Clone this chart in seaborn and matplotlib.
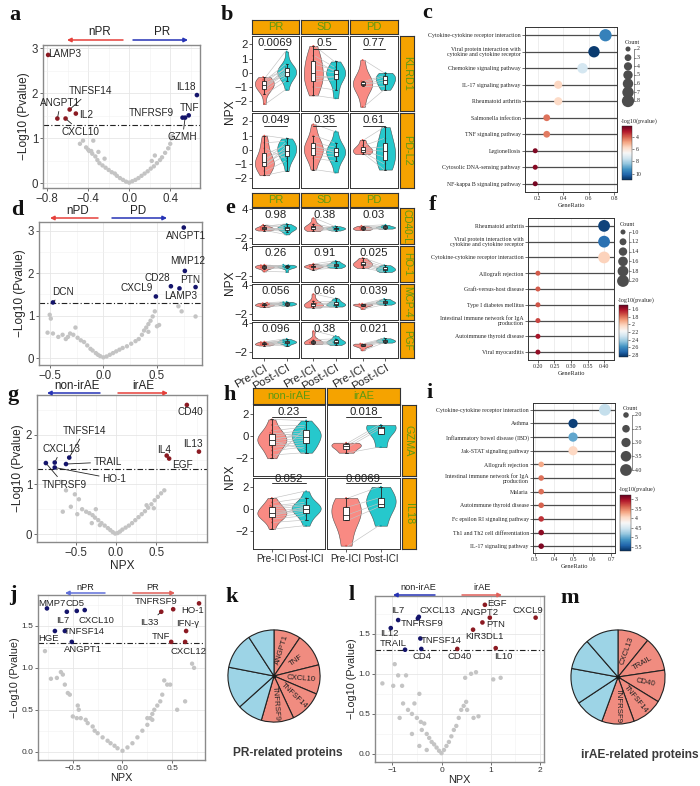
import warnings
import numpy as np
import pandas as pd
import seaborn as sns
import matplotlib.pyplot as plt
from matplotlib import cm
from matplotlib.colors import Normalize
from matplotlib.ticker import MultipleLocator

warnings.filterwarnings("ignore")
sns.set_theme(style="white")
plt.rcParams["font.family"] = ["Liberation Sans", "DejaVu Sans"]

# ----------------------------- data -----------------------------
# volcano a (PR vs nPR)
a_gray = [(-0.48, 0.88), (-0.45, 0.95), (-0.42, 0.80), (-0.40, 0.75), (-0.37, 0.72), (-0.36, 0.66),
          (-0.33, 0.60), (-0.31, 0.52), (-0.29, 0.45), (-0.26, 0.40), (-0.23, 0.35), (-0.20, 0.30),
          (-0.17, 0.25), (-0.14, 0.22), (-0.12, 0.17), (-0.09, 0.12), (-0.06, 0.08), (-0.03, 0.04),
          (0.00, 0.02), (0.03, 0.05), (0.06, 0.08), (0.09, 0.12), (0.12, 0.17), (0.15, 0.22),
          (0.18, 0.27), (0.21, 0.33), (0.24, 0.38), (0.27, 0.45), (0.30, 0.52), (0.32, 0.58),
          (0.35, 0.68), (0.38, 0.78), (0.40, 0.88), (0.41, 1.00), (0.42, 1.05), (0.25, 0.62),
          (0.22, 0.50), (-0.35, 0.95), (-0.39, 0.72), (-0.30, 0.70), (-0.24, 0.55)]
a_gene = ["LAMP3", "ANGPT1", "CXCL10", "TNFSF14", "IL2", "IL18", "TNF", "TNFRSF9", "GZMH"]
a_x = [-0.79, -0.70, -0.62, -0.58, -0.52, 0.66, 0.58, 0.52, 0.545]
a_y = [2.85, 1.44, 1.44, 1.64, 1.55, 1.96, 1.51, 1.46, 1.46]
a_side = ["down"] * 5 + ["up"] * 4

# volcano d (PD vs nPD)
d_gray = [(-0.50, 1.02), (-0.49, 0.93), (-0.52, 0.60), (-0.47, 0.58), (-0.42, 0.50), (-0.33, 0.50),
          (-0.31, 0.58), (-0.28, 0.55), (-0.26, 0.72), (-0.24, 0.48), (-0.21, 0.42), (-0.18, 0.38),
          (-0.15, 0.30), (-0.12, 0.22), (-0.10, 0.18), (-0.07, 0.12), (-0.05, 0.08), (-0.03, 0.05),
          (0.00, 0.02), (0.03, 0.04), (0.06, 0.08), (0.09, 0.12), (0.12, 0.16), (0.15, 0.20),
          (0.18, 0.24), (0.22, 0.28), (0.26, 0.34), (0.30, 0.40), (0.33, 0.45), (0.36, 0.55),
          (0.38, 0.65), (0.40, 0.72), (0.42, 0.80), (0.44, 0.88), (0.46, 0.98), (0.48, 1.10),
          (0.42, 0.62), (0.50, 0.75), (0.52, 0.78), (0.70, 1.22), (0.73, 1.10), (0.86, 0.98),
          (-0.35, 0.45), (-0.38, 0.55)]
d_gene = ["DCN", "CXCL9", "CD28", "LAMP3", "PTN", "MMP12", "ANGPT1"]
d_x = [-0.47, 0.49, 0.63, 0.71, 0.86, 0.76, 0.75]
d_y = [1.31, 1.45, 1.69, 1.64, 1.67, 2.05, 3.07]
d_side = ["up"] * 7

# volcano g (irAE vs non-irAE)
g_gray = [(-0.68, 1.05), (-0.62, 0.88), (-0.51, 0.80), (-0.46, 0.70), (-0.56, 0.55), (-0.66, 0.45),
          (-0.48, 0.40), (-0.42, 0.50), (-0.37, 0.45), (-0.33, 0.42), (-0.29, 0.38), (-0.26, 0.33),
          (-0.22, 0.28), (-0.18, 0.22), (-0.14, 0.17), (-0.10, 0.12), (-0.07, 0.08), (-0.04, 0.04),
          (-0.01, 0.01), (0.02, 0.02), (0.05, 0.05), (0.08, 0.09), (0.12, 0.13), (0.16, 0.17),
          (0.20, 0.22), (0.24, 0.28), (0.28, 0.34), (0.32, 0.40), (0.36, 0.46), (0.40, 0.53),
          (0.44, 0.60), (0.48, 0.68), (0.52, 0.75), (0.56, 0.82), (0.60, 0.88), (0.47, 0.52),
          (0.38, 0.58), (-0.30, 0.22), (-0.20, 0.18), (-0.25, 0.50)]
g_gene = ["TNFRSF9", "CXCL13", "HO-1", "TRAIL", "TNFSF14", "IL4", "EGF", "IL13", "CD40"]
g_x = [-0.87, -0.76, -0.76, -0.62, -0.58, 0.63, 0.66, 1.03, 0.88]
g_y = [1.43, 1.44, 1.34, 1.41, 1.54, 1.58, 1.52, 1.66, 2.60]
g_side = ["up"] * 5 + ["down"] * 4

# volcano j (PR vs nPR, second cohort)
j_gray = [(-0.78, 1.20), (-0.72, 0.87), (-0.66, 0.88), (-0.62, 0.95), (-0.60, 0.92), (-0.58, 0.80),
          (-0.55, 0.70), (-0.53, 0.68), (-0.45, 0.55), (-0.44, 0.50), (-0.46, 0.40), (-0.42, 0.40),
          (-0.37, 0.38), (-0.35, 0.34), (-0.30, 0.30), (-0.25, 0.22), (-0.20, 0.17), (-0.15, 0.13),
          (-0.12, 0.10), (-0.08, 0.07), (-0.05, 0.04), (0.00, 0.01), (0.05, 0.05), (0.10, 0.10),
          (0.15, 0.17), (0.20, 0.25), (0.25, 0.32), (0.28, 0.40), (0.30, 0.45), (0.32, 0.50),
          (0.35, 0.55), (0.38, 0.60), (0.40, 0.68), (0.45, 0.80), (0.48, 0.80), (0.42, 0.85),
          (0.55, 0.50), (0.63, 0.60), (0.70, 1.05), (0.72, 1.00), (0.25, 0.40), (0.30, 0.38),
          (-0.50, 0.42), (-0.28, 0.25)]
j_gene = ["MMP7", "IL7", "CD5", "CXCL10", "HGE", "TNFSF14", "ANGPT1",
          "IL33", "TNFRSF9", "HO-1", "IFN-γ", "TNF", "CXCL12"]
j_x = [-0.76, -0.56, -0.46, -0.38, -0.68, -0.58, -0.51, 0.39, 0.51, 0.77, 0.64, 0.49, 0.63]
j_y = [1.71, 1.67, 1.68, 1.69, 1.44, 1.44, 1.31, 1.67, 1.70, 1.77, 1.44, 1.31, 1.31]
j_side = ["up"] * 7 + ["down"] * 6

# volcano l (irAE vs non-irAE, second cohort)
l_gray = [(-1.20, 0.88), (-0.98, 0.85), (-0.95, 1.12), (-0.88, 0.98), (-0.85, 0.45), (-0.80, 0.85),
          (-0.78, 0.63), (-0.72, 0.98), (-0.68, 0.55), (-0.60, 0.50), (-0.55, 0.63), (-0.50, 0.45),
          (-0.45, 0.75), (-0.42, 0.40), (-0.40, 0.30), (-0.35, 0.38), (-0.30, 0.25), (-0.25, 0.20),
          (-0.20, 0.15), (-0.15, 0.12), (-0.10, 0.08), (-0.05, 0.04), (0.00, 0.01), (0.05, 0.05),
          (0.10, 0.10), (0.15, 0.15), (0.20, 0.22), (0.25, 0.30), (0.30, 0.35), (0.35, 0.45),
          (0.40, 0.55), (0.45, 0.60), (0.50, 0.65), (0.48, 0.95), (0.52, 0.55), (0.65, 0.45),
          (0.75, 0.47), (0.70, 1.02), (1.05, 0.93), (1.20, 0.95), (0.60, 1.00), (-0.60, 0.25),
          (-0.45, 0.10), (-0.30, 0.05)]
l_gene = ["IL7", "IL12", "TRAIL", "CXCL13", "TNFRSF9", "TNFSF14", "CD4",
          "EGF", "ANGPT2", "PTN", "KIR3DL1", "CXCL9", "CD40", "IL10"]
l_x = [-0.88, -1.03, -0.74, -0.46, -0.48, -0.43, -0.41, 0.88, 0.98, 0.83, 0.64, 1.91, 0.32, 1.10]
l_y = [1.67, 1.57, 1.30, 1.71, 1.69, 1.44, 1.31, 1.86, 1.70, 1.64, 1.55, 1.70, 1.31, 1.32]
l_side = ["up"] * 7 + ["down"] * 7

# paired NPX panels (pre / post per response group)
b_groups = ["PR", "SD", "PD"]
b_prot = ["KLRD1", "PD-L2"]
b_pre = {"KLRD1": [[-0.3, -0.5, -0.6, -0.8, -0.9, -1.0, -1.2, -1.5, -2.2, -0.4, -0.7, -1.1],
                   [1.9, 1.2, 0.6, 0.2, -0.2, -0.4, -0.6, -1.0, -1.6, 0.9],
                   [0.9, -0.6, -0.7, -0.8, -0.8, -0.9, -2.4]],
         "PD-L2": [[1.0, 0.5, -0.3, -0.6, -0.9, -1.0, -1.2, -1.5, -1.8, -0.8, -1.1, 0.1],
                   [1.8, 1.0, 0.5, 0.2, 0.0, -0.2, -0.4, -0.6, -1.4, 0.3],
                   [0.7, 0.3, 0.1, 0.0, -0.1, -0.2, -0.3]]}
b_post = {"KLRD1": [[1.5, 0.6, 0.3, 0.1, 0.0, -0.1, -0.3, -0.6, -1.2, 0.2, -0.2, 0.4],
                    [0.8, 0.4, 0.2, 0.0, -0.2, -0.3, -0.5, -1.2, -1.8, 0.1],
                    [0.0, -0.2, -0.3, -0.5, -0.7, -0.9, -1.2]],
          "PD-L2": [[0.8, 0.6, 0.3, 0.0, -0.2, -0.1, -0.4, -0.8, -1.5, 0.5, 0.2, -0.6],
                    [1.3, 0.5, 0.2, 0.0, -0.1, -0.3, -0.5, -0.8, -1.6, -0.2],
                    [1.6, 0.8, 0.2, -0.1, -0.5, -1.0, -1.4]]}
b_p = {"KLRD1": ["0.0069", "0.5", "0.77"], "PD-L2": ["0.049", "0.35", "0.61"]}

e_prot = ["CD40-L", "HO-1", "MCP-4", "PGF"]
e_pre = {"CD40-L": [[0.5, 0.3, 0.2, 0.0, -0.1, -0.2, -0.4, 0.8, 0.1, -0.3],
                    [2.2, 1.0, 0.5, 0.2, 0.0, -0.2, -0.5, 0.3],
                    [0.6, 0.4, 0.1, 0.0, -0.2, -0.3, 0.2]],
         "HO-1": [[0.4, 0.2, 0.0, -0.2, -0.4, -1.0, 0.1, -0.1, -0.3, 0.3],
                  [0.6, 0.3, 0.1, 0.0, -0.2, -0.6, 0.2, -0.1],
                  [1.8, 1.2, 0.8, 0.4, 0.1, -0.3, 0.6]],
         "MCP-4": [[0.4, 0.2, 0.0, -0.1, -0.3, -0.5, 0.1, -0.2, 0.3, -0.1],
                   [2.2, 0.8, 0.2, 0.0, -0.2, -0.4, 0.1, -0.6],
                   [0.2, 0.1, 0.0, -0.1, -0.3, -0.9, 0.0]],
         "PGF": [[0.2, 0.0, -0.2, -0.3, -0.5, -0.6, -0.4, -0.1, 0.1, -0.3],
                 [2.4, 0.6, 0.2, 0.0, -0.1, -0.3, 0.1, -0.2],
                 [-0.2, -0.4, -0.5, -0.6, -0.8, -1.6, -0.3]]}
e_post = {"CD40-L": [[1.0, 0.6, 0.2, 0.0, -0.3, -0.6, -1.2, 0.4, -0.1, 0.3],
                     [0.5, 0.2, 0.0, -0.2, -0.4, 0.1, -0.1, 0.3],
                     [0.8, 0.5, 0.3, 0.1, 0.0, 0.4, 0.2]],
          "HO-1": [[0.4, 0.3, 0.1, 0.0, -0.1, -1.1, -0.2, 0.2, -0.3, 0.1],
                   [1.2, 0.8, 0.4, 0.1, 0.0, -0.3, 0.5, 0.2],
                   [0.3, 0.0, -0.3, -0.6, -0.9, -1.1, -0.5]],
          "MCP-4": [[0.6, 0.4, 0.2, 0.1, 0.0, -0.2, 0.3, 0.5, -0.1, 0.2],
                    [1.3, 0.8, 0.4, 0.1, -0.2, -0.4, 0.2, -0.1],
                    [1.2, 0.9, 0.6, 0.4, 0.2, 0.0, 0.5]],
          "PGF": [[0.8, 0.5, 0.3, 0.1, 0.0, -0.2, -0.7, 0.4, 0.2, -0.1],
                  [1.4, 0.8, 0.4, 0.1, -0.2, -0.5, 0.2, 0.0],
                  [0.9, 0.7, 0.4, 0.3, 0.1, 0.0, 0.5]]}
e_p = {"CD40-L": ["0.98", "0.38", "0.03"], "HO-1": ["0.26", "0.91", "0.025"],
       "MCP-4": ["0.056", "0.66", "0.039"], "PGF": ["0.096", "0.38", "0.021"]}

h_groups = ["non-irAE", "irAE"]
h_prot = ["GZMA", "IL18"]
h_pre = {"GZMA": [[1.5, 1.0, 0.5, 0.2, 0.0, -0.2, -0.4, -0.6, -0.8, -1.0, -1.3, -1.7, -2.0, -0.3, 0.3, -0.5],
                  [-0.6, -0.8, -1.0, -1.5]],
         "IL18": [[1.0, 0.6, 0.3, 0.0, -0.2, -0.4, -0.5, -0.7, -0.9, -1.2, -1.8, 0.2, -0.3, -0.6],
                  [1.0, 0.2, -0.5, -1.0, -3.3]]}
h_post = {"GZMA": [[1.4, 1.0, 0.8, 0.5, 0.3, 0.0, -0.2, -0.4, -0.6, -0.8, -1.0, -1.5, 0.6, 0.2, -0.1, -1.2],
                   [1.0, 0.8, 0.6, -1.0]],
          "IL18": [[1.6, 1.0, 0.6, 0.3, 0.1, 0.0, -0.2, -0.4, -0.6, -1.0, -1.5, 0.4, -0.1, 0.2],
                   [2.0, 1.0, 0.5, 0.2, -1.5]]}
h_p = {"GZMA": ["0.23", "0.018"], "IL18": ["0.052", "0.0069"]}

# KEGG enrichment dot plots
c_term = ["Cytokine-cytokine receptor interaction",
          "Viral protein interaction with\ncytokine and cytokine receptor",
          "Chemokine signaling pathway", "IL-17 signaling pathway", "Rheumatoid arthritis",
          "Salmonella infection", "TNF signaling pathway", "Legionellosis",
          "Cytosolic DNA-sensing pathway", "NF-kappa B signaling pathway"]
c_ratio = [0.73, 0.64, 0.55, 0.36, 0.36, 0.27, 0.27, 0.18, 0.18, 0.18]
c_count = [8, 7, 6, 4, 4, 3, 3, 2, 2, 2]
c_logp = [9.6, 10.8, 7.4, 5.7, 5.8, 4.3, 4.4, 2.6, 2.7, 2.5]

f_term = ["Rheumatoid arthritis",
          "Viral protein interaction with\ncytokine and cytokine receptor",
          "Cytokine-cytokine receptor interaction", "Allograft rejection",
          "Graft-versus-host disease", "Type I diabetes mellitus",
          "Intestinal immune network for IgA\nproduction", "Autoimmune thyroid disease",
          "Viral myocarditis"]
f_ratio = [0.40, 0.40, 0.40, 0.20, 0.20, 0.20, 0.20, 0.20, 0.20]
f_count = [2, 2, 2, 1, 1, 1, 1, 1, 1]
f_logp = [2.80, 2.68, 2.02, 1.76, 1.76, 1.75, 1.72, 1.62, 1.58]

i_term = ["Cytokine-cytokine receptor interaction", "Asthma",
          "Inflammatory bowel disease (IBD)", "Jak-STAT signaling pathway", "Allograft rejection",
          "Intestinal immune network for IgA\nproduction", "Malaria", "Autoimmune thyroid disease",
          "Fc epsilon RI signaling pathway", "Th1 and Th2 cell differentiation",
          "IL-17 signaling pathway"]
i_ratio = [0.667, 0.5, 0.5, 0.5, 0.333, 0.333, 0.333, 0.333, 0.333, 0.333, 0.333]
i_count = [4, 3, 3, 3, 2, 2, 2, 2, 2, 2, 2]
i_logp = [4.6, 5.6, 5.0, 3.95, 3.7, 3.45, 3.45, 3.4, 3.2, 2.95, 2.9]

# pies
k_names = ["ANGPT1", "TNF", "CXCL10", "TNFSF14", "TNFRSF9", "", "", "", ""]
k_share = [34, 42, 37, 42, 41, 32, 53, 46, 33]
m_names = ["CXCL13", "TRAIL", "CD40", "TNFSF14", "TNFRSF9", "", "", "", ""]
m_share = [39, 42.5, 40, 38.5, 40, 36.4, 44, 38.5, 41]

# ----------------------------- figure -----------------------------
W, H = 700, 786
fig = plt.figure(figsize=(7, 7.86), dpi=100, facecolor="w")


def px(x0, y0, x1, y1):
    return [x0 / W, 1 - y1 / H, (x1 - x0) / W, (y1 - y0) / H]


NAVY, DRED = "#14146B", "#8B1A22"
MINUS = "\u2212"


def volcano(rect, gray, xs, ys, side, genes, labpos, xlim, ylim, xt, yt, fs_t, fs_l, fs_ax,
            xlabel=None, ymajor=1.0, xminor=None):
    ax = fig.add_axes(px(*rect))
    gx, gy = zip(*gray)
    sns.scatterplot(x=list(gx), y=list(gy), color="#C4C4C4", s=10, edgecolor="none", ax=ax, zorder=3)
    sns.scatterplot(x=xs, y=ys, hue=side, palette={"up": NAVY, "down": DRED}, s=11,
                    edgecolor="none", legend=False, ax=ax, zorder=4)
    ax.axhline(1.3, color="#222222", lw=0.8, ls=(0, (5, 2, 1, 2)), zorder=2)
    for g, x, y in zip(genes, xs, ys):
        tx, ty, link = labpos[g]
        if link:
            ax.annotate(g, (x, y), (tx, ty), ha="center", va="center", fontsize=fs_l, zorder=5,
                        arrowprops=dict(arrowstyle="-", lw=0.6, color="#222222",
                                        shrinkA=0, shrinkB=1.5))
        else:
            ax.text(tx, ty, g, ha="center", va="center", fontsize=fs_l, zorder=5)
    ax.set_xlim(xlim)
    ax.set_ylim(ylim)
    ax.set_xticks(xt)
    ax.set_yticks(yt)
    ax.xaxis.set_minor_locator(MultipleLocator(xminor if xminor else (xt[1] - xt[0]) / 2))
    ax.yaxis.set_minor_locator(MultipleLocator(ymajor / 2))
    ax.grid(which="major", color="#E6E6E6", lw=0.6)
    ax.grid(which="minor", color="#F1F1F1", lw=0.4)
    ax.set_axisbelow(True)
    for s in ax.spines.values():
        s.set_color("#8A8A8A")
        s.set_linewidth(1.0)
    ax.tick_params(which="major", length=2, width=0.6, color="#555555", labelsize=fs_t,
                   pad=1.5, bottom=True, left=True, labelcolor="#333333")
    ax.tick_params(which="minor", length=0)
    ax.set_ylabel(MINUS + "Log10 (Pvalue)", fontsize=fs_ax, labelpad=1)
    ax.set_xlabel(xlabel if xlabel else "", fontsize=fs_ax, labelpad=1)
    return ax


# ---- a
volcano((43, 45, 200, 188), a_gray, a_x, a_y, a_side, a_gene,
        {"LAMP3": (-0.63, 2.88, False), "ANGPT1": (-0.67, 1.78, True), "CXCL10": (-0.47, 1.14, True),
         "TNFSF14": (-0.38, 2.05, True), "IL2": (-0.42, 1.51, False), "IL18": (0.55, 2.13, False),
         "TNF": (0.59, 1.67, False), "TNFRSF9": (0.22, 1.56, False), "GZMH": (0.52, 1.02, True)},
        (-0.84, 0.69), (-0.1, 3.07), [-0.8, -0.4, 0.0, 0.4], [0, 1, 2, 3], 8.3, 7.2, 8.6)
# ---- d
volcano((39, 222, 202, 365), d_gray, d_x, d_y, d_side, d_gene,
        {"DCN": (-0.38, 1.56, True), "CXCL9": (0.31, 1.64, False), "CD28": (0.50, 1.88, False),
         "LAMP3": (0.72, 1.47, False), "PTN": (0.81, 1.84, False), "MMP12": (0.79, 2.29, False),
         "ANGPT1": (0.77, 2.88, False)},
        (-0.6, 0.92), (-0.16, 3.2), [-0.5, 0.0, 0.5], [0, 1, 2, 3], 8.3, 7.2, 8.6)
# ---- g
volcano((37, 395, 207, 542), g_gray, g_x, g_y, g_side, g_gene,
        {"TNFRSF9": (-0.64, 0.99, True), "CXCL13": (-0.68, 1.71, True), "HO-1": (-0.02, 1.11, True),
         "TRAIL": (-0.10, 1.45, True), "TNFSF14": (-0.39, 2.08, True), "IL4": (0.60, 1.69, False),
         "EGF": (0.83, 1.40, True), "IL13": (0.96, 1.81, False), "CD40": (0.92, 2.45, False)},
        (-0.98, 1.13), (-0.16, 2.8), [-0.5, 0.0, 0.5], [0, 1, 2], 8.3, 7.2, 8.6, xlabel="NPX")
# ---- j
volcano((38, 595, 205, 760), j_gray, j_x, j_y, j_side, j_gene,
        {"MMP7": (-0.71, 1.77, False), "CD5": (-0.48, 1.77, False), "IL7": (-0.60, 1.57, False),
         "CXCL10": (-0.26, 1.57, False), "HGE": (-0.74, 1.35, False), "TNFSF14": (-0.38, 1.43, False),
         "ANGPT1": (-0.40, 1.22, False), "TNFRSF9": (0.34, 1.79, False), "HO-1": (0.70, 1.69, False),
         "IL33": (0.27, 1.54, True), "IFN-γ": (0.66, 1.53, False), "TNF": (0.39, 1.38, False),
         "CXCL12": (0.66, 1.20, False)},
        (-0.85, 0.83), (-0.1, 1.87), [-0.5, 0.0, 0.5], [0.0, 0.5, 1.0, 1.5], 6.0, 6.8, 7.8,
        xlabel="NPX", ymajor=0.5)
# ---- l
volcano((375, 596, 544, 762), l_gray, l_x, l_y, l_side, l_gene,
        {"IL7": (-0.88, 1.79, False), "IL12": (-1.05, 1.50, False), "TRAIL": (-0.98, 1.38, False),
         "CXCL13": (-0.08, 1.79, False), "TNFRSF9": (-0.40, 1.63, False), "TNFSF14": (0.0, 1.42, False),
         "CD4": (-0.39, 1.21, False), "EGF": (1.12, 1.88, False), "ANGPT2": (0.78, 1.76, False),
         "PTN": (1.09, 1.61, False), "KIR3DL1": (0.88, 1.46, False), "CXCL9": (1.76, 1.79, False),
         "CD40": (0.37, 1.21, False), "IL10": (1.25, 1.22, False)},
        (-1.35, 2.08), (-0.1, 1.97), [-1, 0, 1, 2], [0.0, 0.5, 1.0, 1.5], 6.0, 6.8, 7.8,
        xlabel="NPX", ymajor=0.5, xminor=0.5)

# ----------------------------- paired violins -----------------------------
ORDER = ["Pre-ICI", "Post-ICI"]
VPAL = {"Pre-ICI": "#F8766D", "Post-ICI": "#00BFC4"}
DPAL = {"Pre-ICI": "#E0554C", "Post-ICI": "#0AA3A8"}
STRIP_BG, STRIP_FG = "#F5A300", "#5E9A12"


def strip(rect, label, rot=0, fs=8):
    ax = fig.add_axes(px(*rect))
    ax.set_facecolor(STRIP_BG)
    ax.set_xticks([])
    ax.set_yticks([])
    for s in ax.spines.values():
        s.set_color("#333333")
        s.set_linewidth(0.8)
    ax.text(0.5, 0.5, label, ha="center", va="center", color=STRIP_FG, fontsize=fs,
            rotation=rot, transform=ax.transAxes)


def facet(rect, pre, post, p, ylim, yticks, show_y, text_y, line_y, xlab, rot=0, fs=8.2, xfs=8.2):
    ax = fig.add_axes(px(*rect))
    df = pd.DataFrame({"time": ["Pre-ICI"] * len(pre) + ["Post-ICI"] * len(post),
                       "npx": pre + post})
    sns.violinplot(data=df, x="time", y="npx", hue="time", order=ORDER, hue_order=ORDER,
                   palette=VPAL, cut=0, inner=None, linewidth=0.4, width=0.85, saturation=1,
                   density_norm="width", legend=False, ax=ax)
    for c in ax.collections:
        c.set_alpha(0.85)
    for a, b in zip(pre, post):
        ax.plot([0.06, 0.94], [a, b], color="#C2C2C2", lw=0.45, zorder=1.6)
    sns.swarmplot(data=df, x="time", y="npx", hue="time", order=ORDER, hue_order=ORDER,
                  palette=DPAL, size=1.3, legend=False, ax=ax, zorder=1.8)
    sns.boxplot(data=df, x="time", y="npx", order=ORDER, color="white", width=0.18,
                showfliers=False, linewidth=0.6, linecolor="#222222", ax=ax,
                boxprops={"zorder": 3}, whiskerprops={"zorder": 3}, capprops={"zorder": 3},
                medianprops={"zorder": 3.5})
    ax.text(0.5, text_y, p, ha="center", va="center", fontsize=fs, color="#222222", clip_on=False)
    if line_y is not None:
        ax.plot([0, 1], [line_y, line_y], color="#333333", lw=0.7)
    ax.set_xlim(-0.55, 1.55)
    ax.set_ylim(ylim)
    ax.set_yticks(yticks)
    ax.set_xlabel("")
    ax.set_ylabel("")
    if show_y:
        ax.set_yticklabels([str(t).replace("-", MINUS) for t in yticks], fontsize=8.2)
        ax.tick_params(axis="y", left=True, length=2, width=0.5, pad=1)
    else:
        ax.set_yticklabels([])
        ax.tick_params(axis="y", left=False)
    if xlab:
        ax.set_xticklabels(ORDER, fontsize=xfs, rotation=rot,
                           ha="right" if rot else "center", rotation_mode="anchor")
        ax.tick_params(axis="x", bottom=True, length=2, width=0.5, pad=1.5)
    else:
        ax.set_xticklabels([])
        ax.tick_params(axis="x", bottom=False)
    for s in ax.spines.values():
        s.set_color("#333333")
        s.set_linewidth(0.7)
    return ax


# ---- b
col_x = [(252, 299), (301, 348), (350, 398)]
for (x0, x1), g in zip(col_x, b_groups):
    strip((x0, 20, x1, 34), g)
for r, (prot, (y0, y1)) in enumerate(zip(b_prot, [(36, 111), (113, 188)])):
    strip((400, y0, 414, y1), prot, rot=-90, fs=7.8)
    for c, (x0, x1) in enumerate(col_x):
        facet((x0, y0, x1, y1), b_pre[prot][c], b_post[prot][c], b_p[prot][c],
              (-2.7, 2.6), [-2, -1, 0, 1, 2], c == 0, 2.08, 1.68, False)

# ---- e
for (x0, x1), g in zip(col_x, b_groups):
    strip((x0, 193, x1, 207), g)
e_rows = [(208, 244), (246, 282), (284, 320), (322, 358)]
for r, (prot, (y0, y1)) in enumerate(zip(e_prot, e_rows)):
    strip((400, y0, 414, y1), prot, rot=-90, fs=7.2)
    for c, (x0, x1) in enumerate(col_x):
        facet((x0, y0, x1, y1), e_pre[prot][c], e_post[prot][c], e_p[prot][c],
              (-3.2, 4.3), [-2, 4], c == 0, 2.9, None, r == 3, rot=30)

# ---- h
h_col = [(253, 325), (327, 400)]
for (x0, x1), g in zip(h_col, h_groups):
    strip((x0, 388, x1, 404), g)
h_text = [(2.15, 1.75), (2.72, 2.38)]
for r, (prot, (y0, y1)) in enumerate(zip(h_prot, [(405, 476), (478, 549)])):
    strip((402, y0, 416, y1), prot, rot=-90, fs=7.8)
    for c, (x0, x1) in enumerate(h_col):
        facet((x0, y0, x1, y1), h_pre[prot][c], h_post[prot][c], h_p[prot][c],
              (-3.6, 2.8), [-2, 0, 2], c == 0, h_text[r][0], h_text[r][1], r == 1, xfs=7.1)

# ----------------------------- enrichment dot plots -----------------------------
SERIF = "Liberation Serif"


def dotplot(rect, terms, ratio, count, logp, xlim, xt, xfmt, vnorm, srange, cnorm):
    ax = fig.add_axes(px(*rect))
    ypos = list(range(len(terms)))
    df = pd.DataFrame({"ratio": ratio, "y": ypos, "count": count, "lp": logp})
    for y in ypos:
        ax.axhline(y, color="#4D4D4D", lw=0.9, zorder=1)
    sns.scatterplot(data=df, x="ratio", y="y", hue="lp", size="count", palette="RdBu",
                    hue_norm=vnorm, sizes=srange, size_norm=cnorm, legend=False,
                    edgecolor="none", ax=ax, zorder=3)
    ax.set_ylim(len(terms) - 0.5, -0.5)
    ax.set_yticks(ypos)
    ax.set_yticklabels(terms, fontsize=4.2, fontfamily=SERIF, linespacing=0.95)
    ax.set_xlim(xlim)
    ax.set_xticks(xt)
    ax.set_xticklabels([xfmt.format(v) for v in xt], fontsize=4.2, fontfamily=SERIF)
    ax.set_xlabel("GeneRatio", fontsize=4.6, fontfamily=SERIF, labelpad=1)
    ax.set_ylabel("")
    ax.grid(axis="x", color="#E8E8E8", lw=0.5)
    ax.set_axisbelow(True)
    for s in ax.spines.values():
        s.set_color("#333333")
        s.set_linewidth(0.7)
    ax.tick_params(length=2, width=0.5, pad=1, left=True, bottom=True, color="#333333")
    return ax


dotplot((525, 27, 617, 192), c_term, c_ratio, c_count, c_logp, (0.1, 0.82),
        [0.2, 0.4, 0.6, 0.8], "{:.1f}", (2.3, 11.0), (13, 78), (2, 8))
dotplot((528, 218, 614, 360), f_term, f_ratio, f_count, f_logp, (0.17, 0.43),
        [0.20, 0.25, 0.30, 0.35, 0.40], "{:.2f}", (1.5, 2.85), (13, 72), (1, 2))
dotplot((533, 403, 615, 553), i_term, i_ratio, i_count, i_logp, (0.29, 0.72),
        [0.3, 0.4, 0.5, 0.6, 0.7], "{:.1f}", (2.8, 5.7), (16, 72), (2, 4))


def colorbar(rect, vnorm, ticks):
    cax = fig.add_axes(px(*rect))
    sm = cm.ScalarMappable(norm=Normalize(*vnorm), cmap="RdBu")
    cb = fig.colorbar(sm, cax=cax)
    cax.invert_yaxis()
    cb.set_ticks(ticks)
    cb.set_ticklabels([f"{t:g}" if t == int(t) else f"{t:.1f}" for t in ticks])
    cb.outline.set_linewidth(0.3)
    cax.tick_params(labelsize=4.2, length=1.5, width=0.4, pad=1)
    for t in cax.get_yticklabels():
        t.set_fontfamily(SERIF)


colorbar((622, 126, 632, 180), (2.3, 11.0), [4, 6, 8, 10])
colorbar((619, 305, 628, 357), (1.5, 2.85), [1.6, 1.8, 2.0, 2.2, 2.4, 2.6, 2.8])
colorbar((620, 495, 631, 551), (2.8, 5.7), [3.0, 3.5, 4.0, 4.5, 5.0, 5.5])

# ----------------------------- pies -----------------------------
SALMON, SKY = "#F08C80", "#9DD4E6"


def pie(rect, share, names, title, tpos):
    ax = fig.add_axes(px(*rect))
    cols = [SALMON if n else SKY for n in names]
    wedges, _ = ax.pie(share, colors=cols, startangle=90, counterclock=False,
                       wedgeprops=dict(edgecolor="#222222", linewidth=0.8))
    for w, n in zip(wedges, names):
        if not n:
            continue
        ang = (w.theta1 + w.theta2) / 2
        ang = (ang + 180) % 360 - 180
        r = 0.6
        ax.text(r * np.cos(np.radians(ang)), r * np.sin(np.radians(ang)), n,
                ha="center", va="center", rotation=ang, rotation_mode="anchor", fontsize=5.6,
                color="#222222")
    ax.plot(0, 0, "o", color="k", ms=1.8)
    ax.set_xlim(-1.02, 1.02)
    ax.set_ylim(-1.02, 1.02)
    ax.set_aspect("equal")
    fig.text(tpos[0] / W, 1 - tpos[1] / H, title, ha="center", va="center", fontsize=8.6,
             fontweight="bold", color="#3A3A3A")


pie((227, 629, 321, 723), k_share, k_names, "PR-related proteins", (288, 753))
pie((570, 629, 666, 725), m_share, m_names, "irAE-related proteins", (640, 755))

# ----------------------------- overlay: letters, arrows, legends -----------------------------
ov = fig.add_axes([0, 0, 1, 1], zorder=20)
ov.set_xlim(0, W)
ov.set_ylim(H, 0)
ov.axis("off")

for lab, x, y in [("a", 15, 15), ("b", 227, 15), ("c", 427, 13), ("d", 17, 210), ("e", 230, 208),
                  ("f", 433, 205), ("g", 13, 395), ("h", 230, 395), ("i", 430, 393),
                  ("j", 13, 595), ("k", 232, 597), ("l", 352, 595), ("m", 570, 598)]:
    ov.text(x, y, lab, ha="center", va="center", fontsize=16, fontweight="bold",
            fontfamily=SERIF, color="#111111")

RED, BLUE = "#E5403A", "#2633B5"


def arrow(x0, x1, y, col, lab, tx, ty, fs=8.4):
    ov.annotate("", xy=(x1, y), xytext=(x0, y),
                arrowprops=dict(arrowstyle="-|>", color=col, lw=1.1, mutation_scale=6,
                                shrinkA=0, shrinkB=0))
    ov.text(tx, ty, lab, ha="center", va="center", fontsize=fs, color="#222222")


arrow(123, 67, 40, RED, "nPR", 100, 32)
arrow(133, 188, 40, BLUE, "PR", 162, 32)
arrow(98, 50, 218, RED, "nPD", 78, 211)
arrow(112, 167, 218, BLUE, "PD", 138, 211)
arrow(100, 47, 393, BLUE, "non-irAE", 77, 386)
arrow(118, 168, 393, RED, "irAE", 143, 386)
arrow(105, 65, 593, "#5F6FD8", "nPR", 85, 587, 6.6)
arrow(133, 175, 593, "#E0605A", "PR", 153, 587, 6.6)
arrow(435, 393, 595, BLUE, "non-irAE", 418, 588, 6.6)
arrow(462, 502, 595, "#E0605A", "irAE", 482, 588, 6.6)

for y in (112, 283, 477):
    ov.text(230, y, "NPX", ha="center", va="center", rotation=90, fontsize=8.6, color="#222222")


def count_legend(x, y0, y1, values, srange, cnorm, fmt):
    n = len(values)
    ov.text(x - 3, y0 - 7, "Count", ha="left", va="center", fontsize=4.4, fontfamily=SERIF)
    ov.plot([x + 6, x + 6], [y0, y1], color="#333333", lw=0.4)
    for k, v in enumerate(values):
        yy = y0 + k * (y1 - y0) / (n - 1)
        s = srange[0] + (v - cnorm[0]) / (cnorm[1] - cnorm[0]) * (srange[1] - srange[0])
        ov.scatter([x], [yy], s=s, color="#4D4D4D", edgecolor="none")
        ov.plot([x + 6, x + 8], [yy, yy], color="#333333", lw=0.4)
        ov.text(x + 9, yy, fmt.format(v), ha="left", va="center", fontsize=4.2, fontfamily=SERIF)


count_legend(628, 49, 101, [2, 3, 4, 5, 6, 7, 8], (13, 78), (2, 8), "{:d}")
count_legend(623, 232, 281, [1.0, 1.2, 1.4, 1.6, 1.8, 2.0], (13, 72), (1, 2), "{:.1f}")
count_legend(626, 415, 470, [2.0, 2.5, 3.0, 3.5, 4.0], (16, 72), (2, 4), "{:.1f}")

for x, y in [(621, 121), (618, 300), (619, 489)]:
    ov.text(x, y, "-log10(pvalue)", ha="left", va="center", fontsize=4.4, fontfamily=SERIF)

fig.savefig("out.png", dpi=100, facecolor="w")
